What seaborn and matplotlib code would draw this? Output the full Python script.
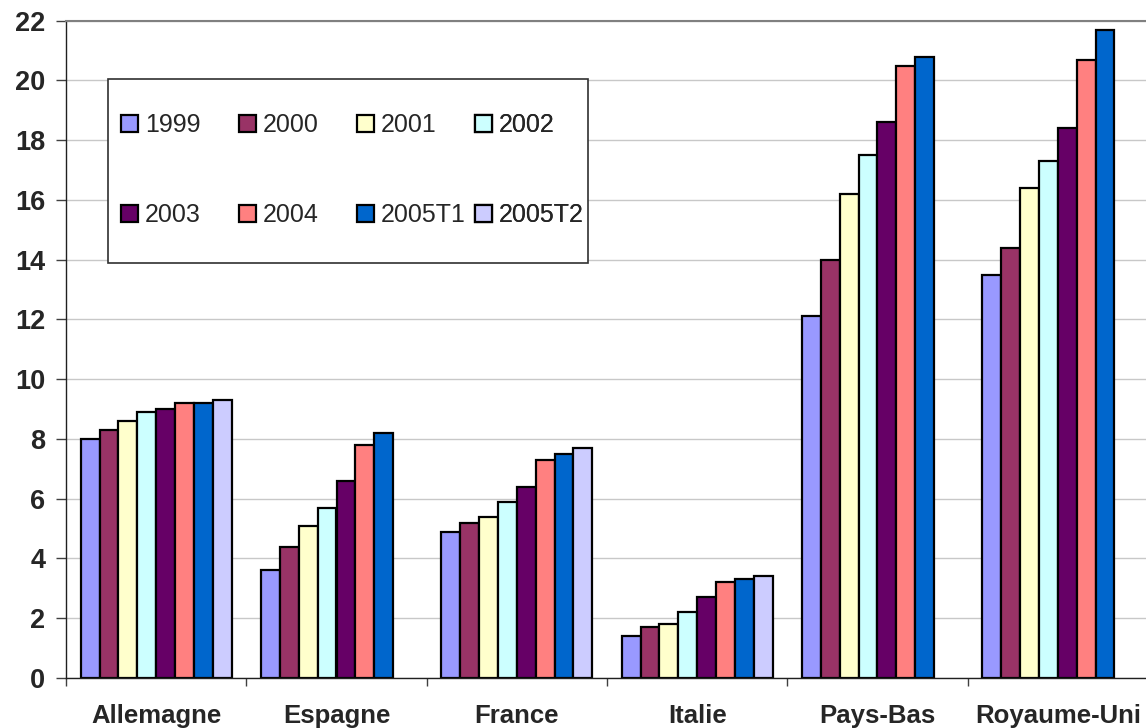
import numpy as np
import pandas as pd
import seaborn as sns
import matplotlib
matplotlib.use("Agg")
import matplotlib.pyplot as plt
from matplotlib.patches import Patch, Rectangle

# Categories and series
pays = ["Allemagne", "Espagne", "France", "Italie", "Pays-Bas", "Royaume-Uni"]
annees = ["1999", "2000", "2001", "2002", "2003", "2004", "2005T1", "2005T2"]

v1999 = [8.0, 3.6, 4.9, 1.4, 12.1, 13.5]
v2000 = [8.3, 4.4, 5.2, 1.7, 14.0, 14.4]
v2001 = [8.6, 5.1, 5.4, 1.8, 16.2, 16.4]
v2002 = [8.9, 5.7, 5.9, 2.2, 17.5, 17.3]
v2003 = [9.0, 6.6, 6.4, 2.7, 18.6, 18.4]
v2004 = [9.2, 7.8, 7.3, 3.2, 20.5, 20.7]
v2005T1 = [9.2, 8.2, 7.5, 3.3, 20.8, 21.7]
v2005T2 = [9.3, np.nan, 7.7, 3.4, np.nan, np.nan]

couleurs = ["#9999FF", "#993366", "#FFFFCC", "#CCFFFF",
            "#660066", "#FF8080", "#0066CC", "#CCCCFF"]

y_ticks = list(range(0, 23, 2))

series = [v1999, v2000, v2001, v2002, v2003, v2004, v2005T1, v2005T2]
df = pd.DataFrame({
    "pays": np.tile(pays, len(annees)),
    "annee": np.repeat(annees, len(pays)),
    "valeur": np.concatenate(series),
})

sns.set_theme(style="white")
plt.rcParams["font.family"] = ["Liberation Sans", "DejaVu Sans"]

W, H = 1146, 728
fig = plt.figure(figsize=(W / 100, H / 100), dpi=100)
fig.patch.set_facecolor("white")
ax = fig.add_axes([66 / W, 50 / H, (1148 - 66) / W, (678 - 20.7) / H])

sns.barplot(data=df, x="pays", y="valeur", hue="annee",
            order=pays, hue_order=annees, palette=couleurs,
            saturation=1, width=0.837, edgecolor="black", linewidth=1.6,
            errorbar=None, legend=False, ax=ax)

ax.set_xlim(-0.5, len(pays) - 0.5)
ax.set_ylim(0, 22)
ax.set_yticks(y_ticks)
ax.set_xlabel("")
ax.set_ylabel("")

# horizontal gridlines behind the bars
ax.set_axisbelow(True)
ax.yaxis.grid(True, color="#c8c8c8", linewidth=1.0)
ax.xaxis.grid(False)

for side in ("left", "bottom"):
    ax.spines[side].set_color("#202020")
    ax.spines[side].set_linewidth(1.0)
ax.spines["top"].set_color("#808080")
ax.spines["top"].set_linewidth(1.5)
ax.spines["right"].set_visible(False)

# y axis ticks and labels
ax.tick_params(axis="y", which="major", direction="out", length=7, width=1,
               color="#404040", left=True, pad=8, labelsize=19.5)
for lab in ax.get_yticklabels():
    lab.set_fontweight("bold")

# x axis: labels at category centres, tick marks between categories
ax.tick_params(axis="x", which="major", length=0, pad=19, labelsize=18.5)
for lab in ax.get_xticklabels():
    lab.set_fontweight("bold")
ax.set_xticks(np.arange(-0.5, len(pays)), minor=True)
ax.tick_params(axis="x", which="minor", direction="out", length=6, width=1,
               color="#404040", bottom=True)

# legend box (white, framed); entries laid out row-wise in 4 equal columns
box = Rectangle((108 / W, 1 - 263 / H), 480 / W, 184 / H,
                transform=fig.transFigure, facecolor="white",
                edgecolor="#303030", linewidth=1.2, zorder=4, clip_on=False)
ax.add_artist(box)

handles = [Patch(facecolor=c, edgecolor="black", linewidth=1.6) for c in couleurs]
n_col = 4
col_x0, col_step = 121, 118
for k in range(n_col):
    idx = [k, k + n_col]
    leg = ax.legend([handles[i] for i in idx], [annees[i] for i in idx],
                    ncol=1, frameon=False, loc="upper left",
                    bbox_to_anchor=((col_x0 + k * col_step) / W, 1 - 113 / H),
                    bbox_transform=fig.transFigure,
                    borderpad=0, borderaxespad=0, fontsize=18,
                    handlelength=0.66, handleheight=0.66, handletextpad=0.3,
                    labelspacing=2.65)
    leg.set_zorder(5)
    ax.add_artist(leg)

fig.savefig("out.png", dpi=100, facecolor="white")
